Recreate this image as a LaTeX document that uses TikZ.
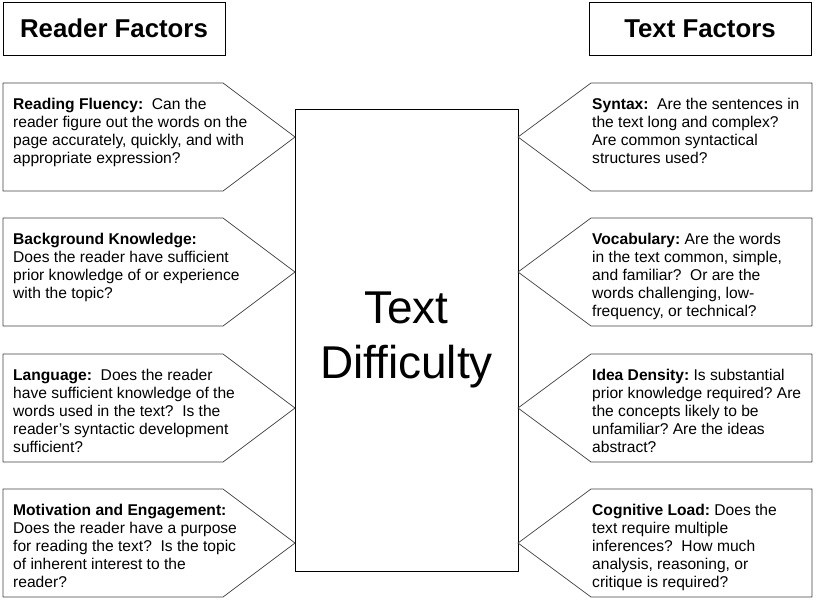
\documentclass[tikz,border=0pt]{standalone}
\usepackage{fontspec}
\setmainfont{Liberation Sans}
\frenchspacing

\begin{document}
\begin{tikzpicture}[x=1pt, y=-1pt,
  heading/.style={draw, line width=0.9pt, minimum width=222, minimum height=53,
    font=\fontsize{25.8}{30}\selectfont\bfseries},
  factor/.style={draw=black!75, line width=0.7pt},
  factortext/.style={anchor=north west, inner sep=0pt, align=left,
    font=\fontsize{15.6}{18}\selectfont}]
\useasboundingbox (0,0) rectangle (817,605);

\node[heading] (reader) at (114,28.5) {Reader Factors};
\node[heading] (textf) at (700,28.5) {Text Factors};
\node[draw, line width=0.9pt, minimum width=223, minimum height=462, align=center,
  font=\fontsize{46}{55}\selectfont] (diff) at (406.5,340) {Text\\Difficulty};

% arrow boxes pointing at the middle box
\foreach \t in {83,218,354,489} {
  \draw[factor] (3,\t) -- ++(220,0) -- ++(72,54) -- ++(-72,54) -- ++(-220,0) -- cycle;
  \draw[factor] (812,\t) -- ++(-221,0) -- ++(-73,54) -- ++(73,54) -- ++(221,0) -- cycle;
}

\node[factortext] (fluency) at (13,97.6) {\textbf{Reading Fluency:}\ \ Can the\\reader figure out the words on the\\page accurately, quickly, and with\\appropriate expression?};
\node[factortext] (backgr) at (13,232.6) {\textbf{Background Knowledge:}\\Does the reader have sufficient\\prior knowledge of or experience\\with the topic?};
\node[factortext] (lang) at (13,368.6) {\textbf{Language:}\ \ Does the reader\\have sufficient knowledge of the\\words used in the text?\ \ Is the\\reader's syntactic development\\sufficient?};
\node[factortext] (motiv) at (13,503.6) {\textbf{Motivation and Engagement:}\\Does the reader have a purpose\\for reading the text?\ \ Is the topic\\of inherent interest to the\\reader?};

\node[factortext] (syntax) at (592,97.6) {\textbf{Syntax:}\ \ Are the sentences in\\the text long and complex?\\Are common syntactical\\structures used?};
\node[factortext] (vocab) at (592,232.6) {\textbf{Vocabulary:} Are the words\\in the text common, simple,\\and familiar?\ \ Or are the\\words challenging, low-\\frequency, or technical?};
\node[factortext] (idea) at (592,368.6) {\textbf{Idea Density:} Is substantial\\prior knowledge required? Are\\the concepts likely to be\\unfamiliar? Are the ideas\\abstract?};
\node[factortext] (cogn) at (592,503.6) {\textbf{Cognitive Load:} Does the\\text require multiple\\inferences?\ \ How much\\analysis, reasoning, or\\critique is required?};
\end{tikzpicture}
\end{document}
